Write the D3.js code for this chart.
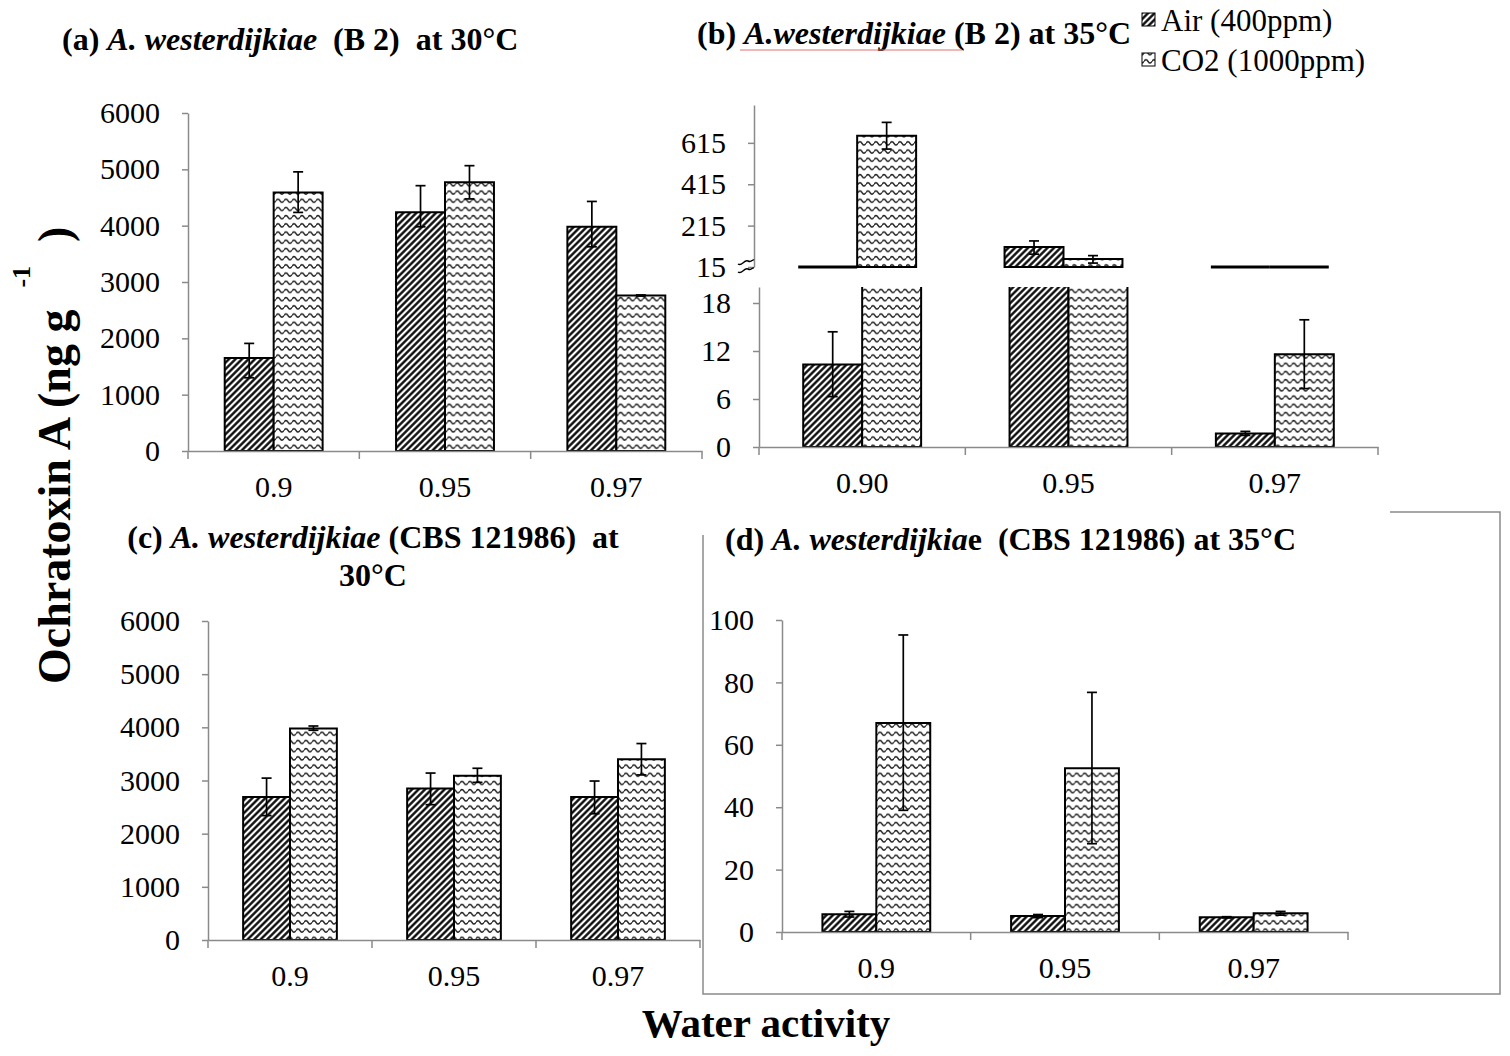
<!DOCTYPE html>
<html lang="en">
<head>
<meta charset="UTF-8">
<title>Ochratoxin A - A. westerdijkiae</title>
<script src="https://d3js.org/d3.v7.min.js"></script>
<style>
  body { margin: 0; background: #fff; }
  svg { display: block; font-family: "Liberation Serif", "Times New Roman", serif; }
  .axis path, .axis line { stroke: #8a8a8a; stroke-width: 1.5px; }
  .axis text { font-size: 30px; fill: #000; font-family: "Liberation Serif", "Times New Roman", serif; }
  .title { font-size: 32px; font-weight: bold; white-space: pre; }
  .legend text { font-size: 31px; }
</style>
</head>
<body>
<div id="chart"></div>
<script>
const width = 1510, height = 1056;

const categories = ["0.9", "0.95", "0.97"];
const categoriesB = ["0.90", "0.95", "0.97"];
const seriesNames = ["Air (400ppm)", "CO2 (1000ppm)"];

// errors are [down, up]
// (a) B 2 at 30°C
const aAir = [1650, 4240, 3980];
const aAirErr = [[350, 260], [260, 470], [355, 450]];
const aCo2 = [4590, 4770, 2760];
const aCo2Err = [[355, 365], [295, 295], [10, 10]];
const aTicks = [0, 1000, 2000, 3000, 4000, 5000, 6000];

// (b) B 2 at 35°C, broken axis
const bAir = [10.3, 112, 1.7];
const bAirErr = [[4.0, 4.1], [35, 29], [0.25, 0.25]];
const bCo2 = [649, 54, 11.6];
const bCo2Err = [[64, 65], [20, 16], [4.3, 4.3]];
const bTicksLow = [0, 6, 12, 18];
const bTicksHigh = [15, 215, 415, 615];

// (c) CBS 121986 at 30°C
const cAir = [2690, 2850, 2690];
const cAirErr = [[350, 355], [305, 290], [315, 300]];
const cCo2 = [3980, 3090, 3400];
const cCo2Err = [[35, 45], [125, 140], [295, 295]];

// (d) CBS 121986 at 35°C
const dAir = [5.7, 5.1, 4.7];
const dAirErr = [[0.9, 0.9], [0.5, 0.5], [0.2, 0.2]];
const dCo2 = [67.0, 52.5, 6.0];
const dCo2Err = [[28, 28.2], [24.2, 24.3], [0.6, 0.6]];
const dTicks = [0, 20, 40, 60, 80, 100];

const svg = d3.select("#chart").append("svg")
    .attr("width", width)
    .attr("height", height);

const defs = svg.append("defs");

// dark upward diagonal hatch
const hatch = defs.append("pattern")
    .attr("id", "hatch")
    .attr("patternUnits", "userSpaceOnUse")
    .attr("width", 4.6).attr("height", 4.6)
    .attr("patternTransform", "rotate(45)");
hatch.append("rect").attr("width", 4.6).attr("height", 4.6).attr("fill", "#fff");
hatch.append("line")
    .attr("x1", 2.3).attr("x2", 2.3).attr("y1", 0).attr("y2", 4.6)
    .attr("stroke", "#000").attr("stroke-width", 2.3);

// wave pattern
const wave = defs.append("pattern")
    .attr("id", "wave")
    .attr("patternUnits", "userSpaceOnUse")
    .attr("width", 8).attr("height", 8.2);
wave.append("rect").attr("width", 8).attr("height", 8.2).attr("fill", "#fff");
wave.append("path")
    .attr("d", "M0,4 Q2,0.8 4,4 Q6,7.2 8,4")
    .attr("fill", "none").attr("stroke", "#262626").attr("stroke-width", 1.6);

const fills = ["url(#hatch)", "url(#wave)"];

function panel(opt) {
    const g = svg.append("g");
    const x = d3.scaleBand().domain(opt.cats).range(opt.xRange);
    const y = d3.scaleLinear().domain(opt.yDomain).range(opt.yRange);
    const bw = x.bandwidth();
    const sub = d3.scaleBand().domain(seriesNames).range([bw * 0.75 / 3.5, bw * 2.75 / 3.5]);
    const floor = opt.yDomain[0];
    const yTop = d3.min(opt.yRange), yBot = d3.max(opt.yRange);

    defs.append("clipPath").attr("id", "clip-" + opt.id)
        .append("rect")
        .attr("x", opt.xRange[0]).attr("y", yTop)
        .attr("width", opt.xRange[1] - opt.xRange[0])
        .attr("height", yBot - yTop + 4);

    const plot = g.append("g").attr("clip-path", `url(#clip-${opt.id})`);

    const rows = opt.cats.map((c, i) => ({
        c: c,
        bars: [
            { s: seriesNames[0], v: opt.air[i], e: opt.airErr[i], fill: fills[0] },
            { s: seriesNames[1], v: opt.co2[i], e: opt.co2Err[i], fill: fills[1] }
        ]
    }));

    const grp = plot.selectAll("g.cat").data(rows).join("g")
        .attr("class", "cat")
        .attr("transform", d => `translate(${x(d.c)},0)`);

    // bars as paths so that values below the axis floor still show as a flat line
    grp.selectAll("path.bar").data(d => d.bars).join("path")
        .attr("class", "bar")
        .attr("d", d => {
            const x0 = sub(d.s), x1 = x0 + sub.bandwidth();
            const y0 = y(floor), y1 = y(Math.max(d.v, floor));
            return `M${x0},${y0}V${y1}H${x1}V${y0}Z`;
        })
        .attr("fill", d => d.fill)
        .attr("stroke", "#000")
        .attr("stroke-width", d => d.v > floor ? 2 : 3);

    const err = grp.selectAll("g.err").data(d => d.bars.filter(b => b.v > floor)).join("g")
        .attr("class", "err")
        .attr("transform", d => `translate(${sub(d.s) + sub.bandwidth() / 2},0)`)
        .attr("stroke", "#000").attr("stroke-width", 1.7);
    err.append("line")
        .attr("y1", d => y(d.v - d.e[0])).attr("y2", d => y(d.v + d.e[1]));
    err.append("line").attr("x1", -5).attr("x2", 5)
        .attr("y1", d => y(d.v + d.e[1])).attr("y2", d => y(d.v + d.e[1]));
    err.append("line").attr("x1", -5).attr("x2", 5)
        .attr("y1", d => y(d.v - d.e[0])).attr("y2", d => y(d.v - d.e[0]));

    if (opt.xAxis) {
        const xa = g.append("g").attr("class", "axis")
            .attr("transform", `translate(0,${y(floor)})`)
            .call(d3.axisBottom(x).tickSize(0).tickSizeOuter(0).tickPadding(25));
        // category boundary ticks
        xa.selectAll("line.bound")
            .data(opt.cats.map(c => x(c)).concat([opt.xRange[1]]))
            .join("line").attr("class", "bound")
            .attr("x1", d => d).attr("x2", d => d)
            .attr("y1", 0).attr("y2", 8);
    }

    g.append("g").attr("class", "axis")
        .attr("transform", `translate(${opt.xRange[0]},0)`)
        .call(d3.axisLeft(y).tickValues(opt.ticks).tickFormat(d3.format("d"))
            .tickSize(6).tickSizeOuter(0).tickPadding(22));

    return { x, y };
}

panel({ id: "a", cats: categories, xRange: [188, 702], yDomain: [0, 6000], yRange: [451, 113],
    ticks: aTicks, air: aAir, airErr: aAirErr, co2: aCo2, co2Err: aCo2Err, xAxis: true });

panel({ id: "bhi", cats: categoriesB, xRange: [754, 1373], yDomain: [15, 798], yRange: [267, 105],
    ticks: bTicksHigh, air: bAir, airErr: bAirErr, co2: bCo2, co2Err: bCo2Err, xAxis: false });

panel({ id: "blo", cats: categoriesB, xRange: [759, 1378], yDomain: [0, 20], yRange: [447, 287],
    ticks: bTicksLow, air: bAir, airErr: bAirErr, co2: bCo2, co2Err: bCo2Err, xAxis: true });

panel({ id: "c", cats: categories, xRange: [208, 700], yDomain: [0, 6000], yRange: [940, 621],
    ticks: aTicks, air: cAir, airErr: cAirErr, co2: cCo2, co2Err: cCo2Err, xAxis: true });

panel({ id: "d", cats: categories, xRange: [782, 1348], yDomain: [0, 100], yRange: [932, 620],
    ticks: dTicks, air: dAir, airErr: dAirErr, co2: dCo2, co2Err: dCo2Err, xAxis: true });

// axis break mark in (b)
const brk = svg.append("g").attr("fill", "none").attr("stroke", "#000").attr("stroke-width", 1.4);
[262, 270].forEach(yy => {
    brk.append("path").attr("d", `M738,${yy + 2} C742,${yy + 5} 744,${yy - 3} 748,${yy - 1} S752,${yy - 3} 754,${yy - 2}`);
});

// panel (d) frame
const frame = svg.append("g").attr("fill", "none").attr("stroke", "#8a8a8a").attr("stroke-width", 1.5);
frame.append("path").attr("d", "M703,535 L703,994 L1500,994 L1500,512 L1390,512");

// titles
function richText(x, y, parts, anchor) {
    const t = svg.append("text").attr("class", "title")
        .attr("x", x).attr("y", y)
        .attr("text-anchor", anchor || "start");
    parts.forEach(p => t.append("tspan").text(p[0]).attr("font-style", p[1] ? "italic" : null));
    return t;
}

richText(62, 50, [["(a) ", false], ["A. westerdijkiae", true], ["  (B 2)  at 30°C", false]]);
richText(697, 44, [["(b) ", false], ["A.westerdijkiae", true], [" (B 2) at 35°C", false]]);
svg.append("line").attr("x1", 740).attr("x2", 962).attr("y1", 50).attr("y2", 50)
    .attr("stroke", "#e07070").attr("stroke-width", 1);
richText(373, 548, [["(c) ", false], ["A. westerdijkiae", true], [" (CBS 121986)  at", false]], "middle");
richText(373, 586, [["30°C", false]], "middle");
richText(725, 550, [["(d) ", false], ["A. westerdijkia", true], ["e  (CBS 121986) at 35°C", false]]);

// legend
const legend = svg.append("g").attr("class", "legend");
seriesNames.forEach((name, i) => {
    const ly = 13 + i * 40;
    legend.append("rect")
        .attr("x", 1142).attr("y", ly).attr("width", 13).attr("height", 13)
        .attr("fill", fills[i]).attr("stroke", "#000").attr("stroke-width", 1);
    legend.append("text")
        .attr("x", 1161).attr("y", ly + 18)
        .text(name);
});

// axis titles
const yl = svg.append("text")
    .attr("transform", "translate(70,684) rotate(-90)")
    .attr("font-size", 46).attr("font-weight", "bold");
yl.append("tspan").text("Ochratoxin A (ng g");
yl.append("tspan").attr("dy", -40).attr("dx", 22).attr("font-size", 26).text("-1");
yl.append("tspan").attr("dy", 40).attr("dx", 24).text(")");

svg.append("text")
    .attr("x", 766).attr("y", 1037)
    .attr("text-anchor", "middle")
    .attr("font-size", 41).attr("font-weight", "bold")
    .text("Water activity");
</script>
</body>
</html>
